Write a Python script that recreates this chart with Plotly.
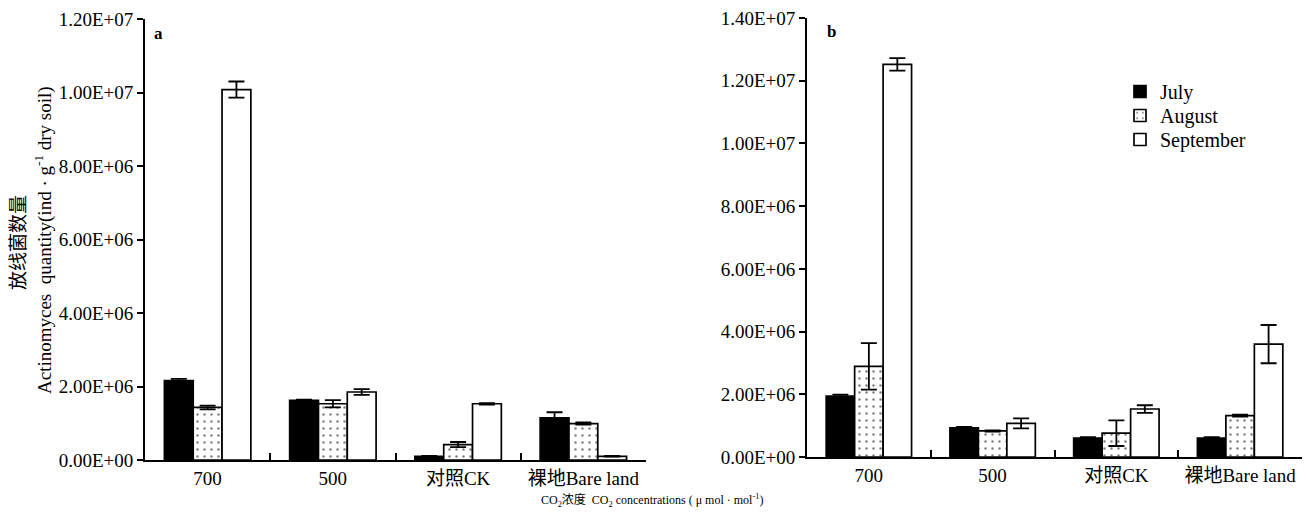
import plotly.graph_objects as go

categories = ["700", "500", "对照CK", "裸地Bare land"]
months = ["July", "August", "September"]

# Panel a
a_july = [2.16e6, 1.62e6, 0.10e6, 1.15e6]
a_july_err = [0.05e6, 0.02e6, 0.01e6, 0.15e6]
a_aug = [1.43e6, 1.53e6, 0.42e6, 0.99e6]
a_aug_err = [0.05e6, 0.10e6, 0.07e6, 0.03e6]
a_sep = [10.08e6, 1.85e6, 1.53e6, 0.10e6]
a_sep_err = [0.22e6, 0.08e6, 0.02e6, 0.01e6]

# Panel b
b_july = [1.94e6, 0.93e6, 0.60e6, 0.60e6]
b_july_err = [0.05e6, 0.03e6, 0.03e6, 0.03e6]
b_aug = [2.89e6, 0.83e6, 0.76e6, 1.32e6]
b_aug_err = [0.74e6, 0.02e6, 0.41e6, 0.03e6]
b_sep = [12.52e6, 1.07e6, 1.53e6, 3.60e6]
b_sep_err = [0.20e6, 0.16e6, 0.12e6, 0.61e6]

a_ticks = [0, 2e6, 4e6, 6e6, 8e6, 10e6, 12e6]
a_ticktext = ["0.00E+00", "2.00E+06", "4.00E+06", "6.00E+06", "8.00E+06", "1.00E+07", "1.20E+07"]
b_ticks = [0, 2e6, 4e6, 6e6, 8e6, 10e6, 12e6, 14e6]
b_ticktext = ["0.00E+00", "2.00E+06", "4.00E+06", "6.00E+06", "8.00E+06", "1.00E+07", "1.20E+07", "1.40E+07"]

SERIF = "Liberation Serif, Times New Roman, Noto Sans CJK SC, serif"
W, H = 1306, 512

styles = {
    "July": dict(color="black", pattern=None),
    "August": dict(color="white", pattern=dict(shape=".", fgcolor="black", bgcolor="white", size=7, solidity=0.1)),
    "September": dict(color="white", pattern=None),
}
legend_ids = {"July": "legend", "August": "legend2", "September": "legend3"}

fig = go.Figure()

panels = [
    ("x", "y", [a_july, a_aug, a_sep], [a_july_err, a_aug_err, a_sep_err], True),
    ("x2", "y2", [b_july, b_aug, b_sep], [b_july_err, b_aug_err, b_sep_err], False),
]
for xa, ya, vals, errs, first in panels:
    for m, v, e in zip(months, vals, errs):
        st = styles[m]
        marker = dict(color=st["color"], line=dict(color="black", width=1.7))
        if st["pattern"] is not None:
            marker["pattern"] = st["pattern"]
        fig.add_trace(go.Bar(
            x=categories, y=v, name=m, xaxis=xa, yaxis=ya,
            marker=marker, legendgroup=m, showlegend=not first, legend=legend_ids[m],
            error_y=dict(type="data", array=e, visible=True, color="black", thickness=1.8, width=8),
        ))

axis_common = dict(showline=True, linecolor="black", linewidth=1.7, showgrid=False, zeroline=False,
                   automargin=False, tickfont=dict(family=SERIF, size=19, color="black"))


def px(xp):
    return xp / W


def py(yp):
    return 1 - yp / H


def legend_at(top):
    return dict(x=px(1120), y=py(top), xanchor="left", yanchor="top",
                font=dict(family=SERIF, size=20, color="black"), bgcolor="rgba(0,0,0,0)",
                tracegroupgap=0, itemwidth=30)


fig.update_layout(
    width=W, height=H, autosize=False,
    margin=dict(l=0, r=0, t=0, b=0, pad=0),
    paper_bgcolor="white", plot_bgcolor="white",
    barmode="group", bargap=0.31, bargroupgap=0,
    font=dict(family=SERIF, color="black"),
    xaxis=dict(domain=[px(145), px(646)], anchor="y", type="category",
               ticks="inside", tickson="boundaries", ticklen=7, tickcolor="black", tickwidth=1.7, **axis_common),
    yaxis=dict(domain=[py(460), py(19)], anchor="x", range=[0, 1.2e7],
               tickvals=a_ticks, ticktext=a_ticktext, ticks="outside", ticklen=6,
               tickcolor="black", tickwidth=1.7, **axis_common),
    xaxis2=dict(domain=[px(807), px(1302)], anchor="y2", type="category",
                ticks="inside", tickson="boundaries", ticklen=7, tickcolor="black", tickwidth=1.7, **axis_common),
    yaxis2=dict(domain=[py(457), py(18)], anchor="x2", range=[0, 1.4e7],
                tickvals=b_ticks, ticktext=b_ticktext, ticks="outside", ticklen=6,
                tickcolor="black", tickwidth=1.7, **axis_common),
    legend=legend_at(72),
    legend2=legend_at(96),
    legend3=legend_at(120),
    annotations=[
        dict(text="<b>a</b>", x=px(152), y=py(33), xref="paper", yref="paper",
             xanchor="left", yanchor="middle", showarrow=False, font=dict(family=SERIF, size=17)),
        dict(text="<b>b</b>", x=px(825), y=py(31), xref="paper", yref="paper",
             xanchor="left", yanchor="middle", showarrow=False, font=dict(family=SERIF, size=17)),
        dict(text="放线菌数量", x=px(18), y=py(243), xref="paper", yref="paper",
             textangle=-90, xanchor="center", yanchor="middle", showarrow=False,
             font=dict(family=SERIF, size=19)),
        dict(text="Actinomyces  quantity(ind · g<sup>-1</sup> dry soil)", x=px(43), y=py(240),
             xref="paper", yref="paper", textangle=-90, xanchor="center", yanchor="middle",
             showarrow=False, font=dict(family=SERIF, size=19)),
        dict(text="CO<sub>2</sub>浓度  CO<sub>2</sub> concentrations ( μ mol · mol<sup>-1</sup>)",
             x=px(652), y=py(500), xref="paper", yref="paper", xanchor="center", yanchor="middle",
             showarrow=False, font=dict(family=SERIF, size=12)),
    ],
)

fig.write_html(
    "out.html",
    config={"responsive": False, "displayModeBar": False},
    post_script="document.body.style.margin='0';document.body.style.overflow='hidden';",
)
